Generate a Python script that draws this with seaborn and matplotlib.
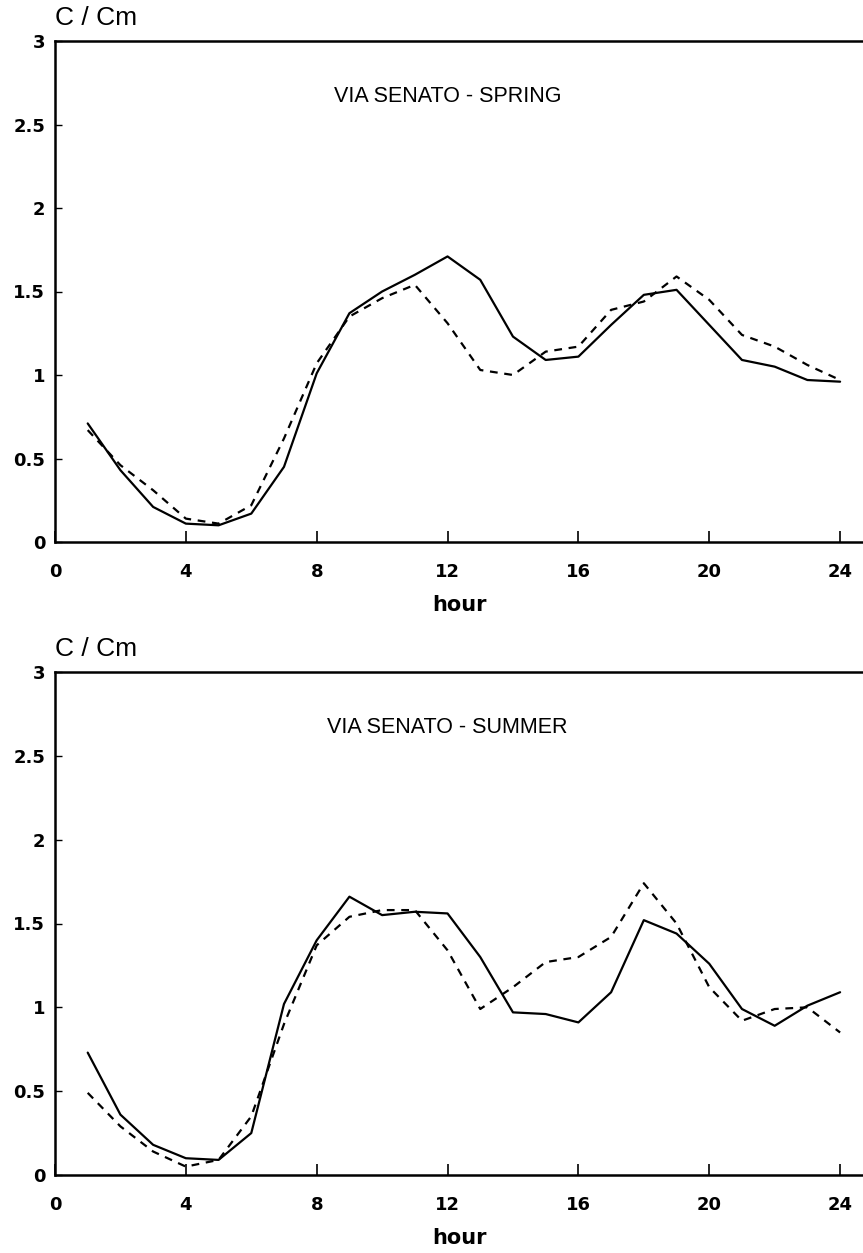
import numpy as np
import pandas as pd
import matplotlib
matplotlib.use("Agg")
import matplotlib.pyplot as plt
import seaborn as sns
from matplotlib.ticker import FuncFormatter

# Hourly values (C / Cm)
hours = list(range(1, 25))

spring_solid = [0.71, 0.43, 0.21, 0.11, 0.10, 0.17, 0.45, 1.01, 1.37, 1.50, 1.60, 1.71,
                1.57, 1.23, 1.09, 1.11, 1.30, 1.48, 1.51, 1.30, 1.09, 1.05, 0.97, 0.96]
spring_dashed = [0.67, 0.46, 0.31, 0.14, 0.11, 0.22, 0.62, 1.07, 1.35, 1.46, 1.54, 1.31,
                 1.03, 1.00, 1.14, 1.17, 1.39, 1.44, 1.59, 1.45, 1.24, 1.17, 1.06, 0.97]

summer_solid = [0.73, 0.36, 0.18, 0.10, 0.09, 0.25, 1.02, 1.40, 1.66, 1.55, 1.57, 1.56,
                1.30, 0.97, 0.96, 0.91, 1.09, 1.52, 1.44, 1.26, 0.99, 0.89, 1.01, 1.09]
summer_dashed = [0.49, 0.29, 0.14, 0.05, 0.09, 0.35, 0.90, 1.37, 1.54, 1.58, 1.58, 1.34,
                 0.99, 1.12, 1.27, 1.30, 1.42, 1.74, 1.50, 1.12, 0.92, 0.99, 1.00, 0.85]

panel_titles = ["VIA SENATO - SPRING", "VIA SENATO - SUMMER"]
x_ticks = [0, 4, 8, 12, 16, 20, 24]
y_ticks = [0, 0.5, 1, 1.5, 2, 2.5, 3]

sns.set_style("ticks")
plt.rcParams['font.family'] = ['Liberation Sans', 'DejaVu Sans']
for key in ['text.color', 'axes.labelcolor', 'xtick.color', 'ytick.color',
            'axes.edgecolor']:
    plt.rcParams[key] = 'black'

W, H = 863, 1253
fig = plt.figure(figsize=(W / 100, H / 100), dpi=100)

# axes boxes in pixels: (left, top, bottom)
boxes = [(55, 41, 542), (55, 672, 1175)]
data = [(spring_solid, spring_dashed), (summer_solid, summer_dashed)]

for (left, top, bottom), (solid, dashed), title in zip(boxes, data, panel_titles):
    ax = fig.add_axes([left / W, 1 - bottom / H, (W - left) / W, (bottom - top) / H])
    sns.lineplot(x=hours, y=solid, ax=ax, color='black', linewidth=1.6)
    sns.lineplot(x=hours, y=dashed, ax=ax, color='black', linewidth=1.6,
                 linestyle=(0, (3.5, 3)))
    ax.set_xlim(0, 24.7)
    ax.set_ylim(0, 3)
    ax.set_xticks(x_ticks)
    ax.set_yticks(y_ticks)
    ax.yaxis.set_major_formatter(FuncFormatter(lambda v, p: f"{v:g}"))
    ax.tick_params(axis='x', direction='in', length=8, width=1.2, pad=15,
                   labelsize=13)
    ax.tick_params(axis='y', direction='in', length=5, width=1, pad=7,
                   labelsize=13)
    for lab in ax.get_xticklabels() + ax.get_yticklabels():
        lab.set_fontweight('bold')
        lab.set_family('DejaVu Sans')
    for s in ['left', 'bottom', 'top']:
        ax.spines[s].set_linewidth(1.8)
    ax.spines['right'].set_visible(False)
    ax.set_xlabel("hour", fontsize=15, fontweight='bold', family='DejaVu Sans',
                  labelpad=10)
    ax.set_ylabel("")
    ax.text(12, 2.67, title, ha='center', va='center', fontsize=15.5)
    ax.text(0, 1.022, "C / Cm", transform=ax.transAxes, ha='left', va='bottom',
            fontsize=19, fontweight='medium')

fig.savefig("out.png", dpi=100)
